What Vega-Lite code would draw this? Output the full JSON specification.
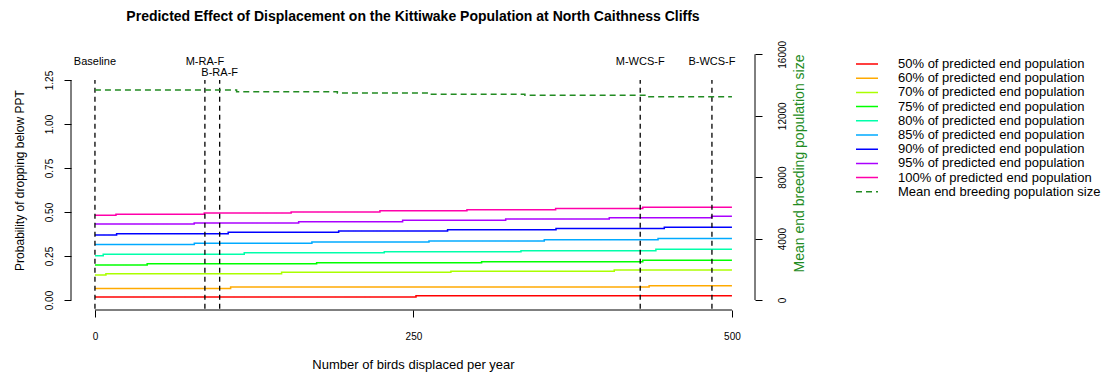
{
  "$schema": "https://vega.github.io/schema/vega-lite/v6.json",
  "width": 684,
  "height": 260,
  "autosize": {"type": "none"},
  "padding": {"left": 71, "top": 50, "right": 346, "bottom": 64},
  "background": "white",
  "config": {
    "view": {"stroke": null},
    "font": "Liberation Sans",
    "legend": {
      "orient": "none",
      "legendX": 789.5,
      "legendY": 7.5,
      "padding": 0,
      "symbolType": "M-2,0H2",
      "symbolSize": 121,
      "symbolStrokeWidth": 1.5,
      "labelFontSize": 13,
      "labelFont": "Liberation Sans",
      "labelColor": "black",
      "labelOffset": 24.5,
      "rowPadding": 0.2,
      "labelLimit": 400
    }
  },
  "title": {
    "text": "Predicted Effect of Displacement on the Kittiwake Population at North Caithness Cliffs",
    "fontSize": 14,
    "fontWeight": "bold",
    "font": "Liberation Sans",
    "color": "black",
    "anchor": "middle",
    "offset": 16
  },
  "datasets": {
    "probs": [
      {"series": "50% of predicted end population", "x": 0, "p": 0.017},
      {"series": "50% of predicted end population", "x": 252, "p": 0.024},
      {"series": "50% of predicted end population", "x": 500, "p": 0.024},
      {"series": "60% of predicted end population", "x": 0, "p": 0.066},
      {"series": "60% of predicted end population", "x": 106.5, "p": 0.074},
      {"series": "60% of predicted end population", "x": 435, "p": 0.081},
      {"series": "60% of predicted end population", "x": 500, "p": 0.081},
      {"series": "70% of predicted end population", "x": 0, "p": 0.142},
      {"series": "70% of predicted end population", "x": 8.6, "p": 0.149},
      {"series": "70% of predicted end population", "x": 146.5, "p": 0.157},
      {"series": "70% of predicted end population", "x": 279.4, "p": 0.163},
      {"series": "70% of predicted end population", "x": 407.6, "p": 0.17},
      {"series": "70% of predicted end population", "x": 500, "p": 0.17},
      {"series": "75% of predicted end population", "x": 0, "p": 0.199},
      {"series": "75% of predicted end population", "x": 41, "p": 0.206},
      {"series": "75% of predicted end population", "x": 174, "p": 0.212},
      {"series": "75% of predicted end population", "x": 303.5, "p": 0.218},
      {"series": "75% of predicted end population", "x": 430, "p": 0.226},
      {"series": "75% of predicted end population", "x": 500, "p": 0.226},
      {"series": "80% of predicted end population", "x": 0, "p": 0.251},
      {"series": "80% of predicted end population", "x": 6.5, "p": 0.26},
      {"series": "80% of predicted end population", "x": 117.2, "p": 0.268},
      {"series": "80% of predicted end population", "x": 227.1, "p": 0.274},
      {"series": "80% of predicted end population", "x": 334.4, "p": 0.28},
      {"series": "80% of predicted end population", "x": 440.3, "p": 0.288},
      {"series": "80% of predicted end population", "x": 500, "p": 0.288},
      {"series": "85% of predicted end population", "x": 0, "p": 0.316},
      {"series": "85% of predicted end population", "x": 78, "p": 0.322},
      {"series": "85% of predicted end population", "x": 170.3, "p": 0.33},
      {"series": "85% of predicted end population", "x": 262.2, "p": 0.335},
      {"series": "85% of predicted end population", "x": 352.7, "p": 0.343},
      {"series": "85% of predicted end population", "x": 442, "p": 0.349},
      {"series": "85% of predicted end population", "x": 500, "p": 0.349},
      {"series": "90% of predicted end population", "x": 0, "p": 0.369},
      {"series": "90% of predicted end population", "x": 17, "p": 0.377},
      {"series": "90% of predicted end population", "x": 104.6, "p": 0.385},
      {"series": "90% of predicted end population", "x": 191.3, "p": 0.392},
      {"series": "90% of predicted end population", "x": 276.8, "p": 0.399},
      {"series": "90% of predicted end population", "x": 361.9, "p": 0.406},
      {"series": "90% of predicted end population", "x": 446.9, "p": 0.413},
      {"series": "90% of predicted end population", "x": 500, "p": 0.413},
      {"series": "95% of predicted end population", "x": 0, "p": 0.432},
      {"series": "95% of predicted end population", "x": 77.9, "p": 0.438},
      {"series": "95% of predicted end population", "x": 159.9, "p": 0.445},
      {"series": "95% of predicted end population", "x": 241.5, "p": 0.453},
      {"series": "95% of predicted end population", "x": 322.4, "p": 0.46},
      {"series": "95% of predicted end population", "x": 403.7, "p": 0.468},
      {"series": "95% of predicted end population", "x": 484, "p": 0.476},
      {"series": "95% of predicted end population", "x": 500, "p": 0.476},
      {"series": "100% of predicted end population", "x": 0, "p": 0.481},
      {"series": "100% of predicted end population", "x": 16.5, "p": 0.487},
      {"series": "100% of predicted end population", "x": 85.8, "p": 0.494},
      {"series": "100% of predicted end population", "x": 154, "p": 0.5},
      {"series": "100% of predicted end population", "x": 223.7, "p": 0.507},
      {"series": "100% of predicted end population", "x": 292, "p": 0.513},
      {"series": "100% of predicted end population", "x": 361.6, "p": 0.52},
      {"series": "100% of predicted end population", "x": 430, "p": 0.527},
      {"series": "100% of predicted end population", "x": 500, "p": 0.527}
    ],
    "mean": [
      {"series": "Mean end breeding population size", "x": 0, "n": 13675},
      {"series": "Mean end breeding population size", "x": 111.2, "n": 13565},
      {"series": "Mean end breeding population size", "x": 190.3, "n": 13480},
      {"series": "Mean end breeding population size", "x": 261.4, "n": 13395},
      {"series": "Mean end breeding population size", "x": 337.5, "n": 13330},
      {"series": "Mean end breeding population size", "x": 433.3, "n": 13233},
      {"series": "Mean end breeding population size", "x": 500, "n": 13233}
    ],
    "vlines": [
      {"label": "Baseline", "x": 0, "tier": 1},
      {"label": "M-RA-F", "x": 86.3, "tier": 1},
      {"label": "B-RA-F", "x": 97.9, "tier": 2},
      {"label": "M-WCS-F", "x": 428, "tier": 1},
      {"label": "B-WCS-F", "x": 484.3, "tier": 1}
    ]
  },
  "layer": [
    {
      "layer": [
        {
          "data": {"name": "probs"},
          "mark": {"type": "line", "interpolate": "step-after", "strokeWidth": 1.5},
          "encoding": {
            "x": {
              "field": "x", "type": "quantitative",
              "scale": {"domain": [-18.8, 518.1], "nice": false, "zero": false},
              "axis": {
                "orient": "bottom", "values": [0, 250, 500], "domain": false, "grid": false,
                "tickSize": 7, "tickColor": "black", "labelFontSize": 10, "labelColor": "black",
                "labelFont": "Liberation Sans", "labelPadding": 14, "labelFlush": false,
                "title": "Number of birds displaced per year", "titleFontSize": 13,
                "titleFontWeight": "normal", "titleColor": "black", "titleFont": "Liberation Sans",
                "titlePadding": 17
              }
            },
            "y": {
              "field": "p", "type": "quantitative",
              "scale": {"domain": [-0.0568, 1.4205], "nice": false, "zero": false},
              "axis": {
                "orient": "left", "values": [0, 0.25, 0.5, 0.75, 1, 1.25], "format": ".2f",
                "domain": false, "grid": false, "tickSize": 7, "tickColor": "black",
                "labelAngle": 270, "labelAlign": "center", "labelBaseline": "bottom",
                "labelPadding": 10, "labelFontSize": 10, "labelColor": "black",
                "labelFont": "Liberation Sans", "labelFlush": false, "labelOverlap": false,
                "title": "Probability of dropping below PPT", "titleFontSize": 12,
                "titleFontWeight": "normal", "titleColor": "black", "titleFont": "Liberation Sans",
                "titlePadding": 17.5
              }
            },
            "color": {
              "field": "series", "type": "nominal", "title": null,
              "scale": {
                "domain": [
                  "50% of predicted end population", "60% of predicted end population",
                  "70% of predicted end population", "75% of predicted end population",
                  "80% of predicted end population", "85% of predicted end population",
                  "90% of predicted end population", "95% of predicted end population",
                  "100% of predicted end population", "Mean end breeding population size"
                ],
                "range": ["#FF0000", "#FFAA00", "#AAFF00", "#00FF00", "#00FFAA", "#00AAFF", "#0000FF", "#AA00FF", "#FF00AA", "#228B22"]
              }
            },
            "strokeDash": {
              "field": "series", "type": "nominal", "title": null,
              "scale": {
                "domain": [
                  "50% of predicted end population", "60% of predicted end population",
                  "70% of predicted end population", "75% of predicted end population",
                  "80% of predicted end population", "85% of predicted end population",
                  "90% of predicted end population", "95% of predicted end population",
                  "100% of predicted end population", "Mean end breeding population size"
                ],
                "range": [[1, 0], [1, 0], [1, 0], [1, 0], [1, 0], [1, 0], [1, 0], [1, 0], [1, 0], [6, 4]]
              }
            }
          }
        },
        {
          "data": {"name": "vlines"},
          "mark": {"type": "rule", "color": "black", "strokeWidth": 1.3, "strokeDash": [5, 4]},
          "encoding": {
            "x": {"field": "x", "type": "quantitative"},
            "y": {"datum": -0.05},
            "y2": {"datum": 1.25}
          }
        },
        {
          "data": {"name": "vlines"},
          "transform": [{"filter": "datum.tier == 1"}],
          "mark": {"type": "text", "fontSize": 11, "font": "Liberation Sans", "color": "black", "baseline": "middle", "align": "center"},
          "encoding": {
            "x": {"field": "x", "type": "quantitative"},
            "y": {"datum": 1.352},
            "text": {"field": "label"}
          }
        },
        {
          "data": {"name": "vlines"},
          "transform": [{"filter": "datum.tier == 2"}],
          "mark": {"type": "text", "fontSize": 11, "font": "Liberation Sans", "color": "black", "baseline": "middle", "align": "center"},
          "encoding": {
            "x": {"field": "x", "type": "quantitative"},
            "y": {"datum": 1.29},
            "text": {"field": "label"}
          }
        },
        {
          "data": {"values": [{}]},
          "mark": {"type": "rule", "color": "black", "strokeWidth": 1},
          "encoding": {
            "x": {"datum": -18.8},
            "y": {"datum": 0},
            "y2": {"datum": 1.25}
          }
        },
        {
          "data": {"values": [{}]},
          "mark": {"type": "rule", "color": "black", "strokeWidth": 1},
          "encoding": {
            "x": {"datum": 0},
            "x2": {"datum": 500},
            "y": {"datum": -0.0568}
          }
        }
      ]
    },
    {
      "layer": [
        {
          "data": {"name": "mean"},
          "mark": {"type": "line", "interpolate": "step-after", "strokeWidth": 1.5},
          "encoding": {
            "x": {"field": "x", "type": "quantitative"},
            "y": {
              "field": "n", "type": "quantitative",
              "scale": {"domain": [-651, 16280], "nice": false, "zero": false},
              "axis": {
                "orient": "right", "values": [0, 4000, 8000, 12000, 16000], "format": "d",
                "domain": false, "grid": false, "tickSize": 7, "tickColor": "black",
                "labelAngle": 270, "labelAlign": "center", "labelBaseline": "top",
                "labelPadding": 15, "labelFontSize": 10, "labelColor": "black",
                "labelFont": "Liberation Sans", "labelFlush": false, "labelOverlap": false,
                "title": "Mean end breeding population size", "titleFontSize": 14,
                "titleFontWeight": "normal", "titleColor": "#228B22", "titleFont": "Liberation Sans",
                "titleAngle": 270, "titleBaseline": "top", "titlePadding": 5, "titleY": 113
              }
            },
            "color": {"field": "series", "type": "nominal", "title": null},
            "strokeDash": {"field": "series", "type": "nominal", "title": null}
          }
        },
        {
          "data": {"values": [{}]},
          "mark": {"type": "rule", "color": "black", "strokeWidth": 1},
          "encoding": {
            "x": {"datum": 518.1},
            "y": {"datum": 0},
            "y2": {"datum": 16000}
          }
        }
      ]
    }
  ],
  "resolve": {"scale": {"y": "independent"}}
}
